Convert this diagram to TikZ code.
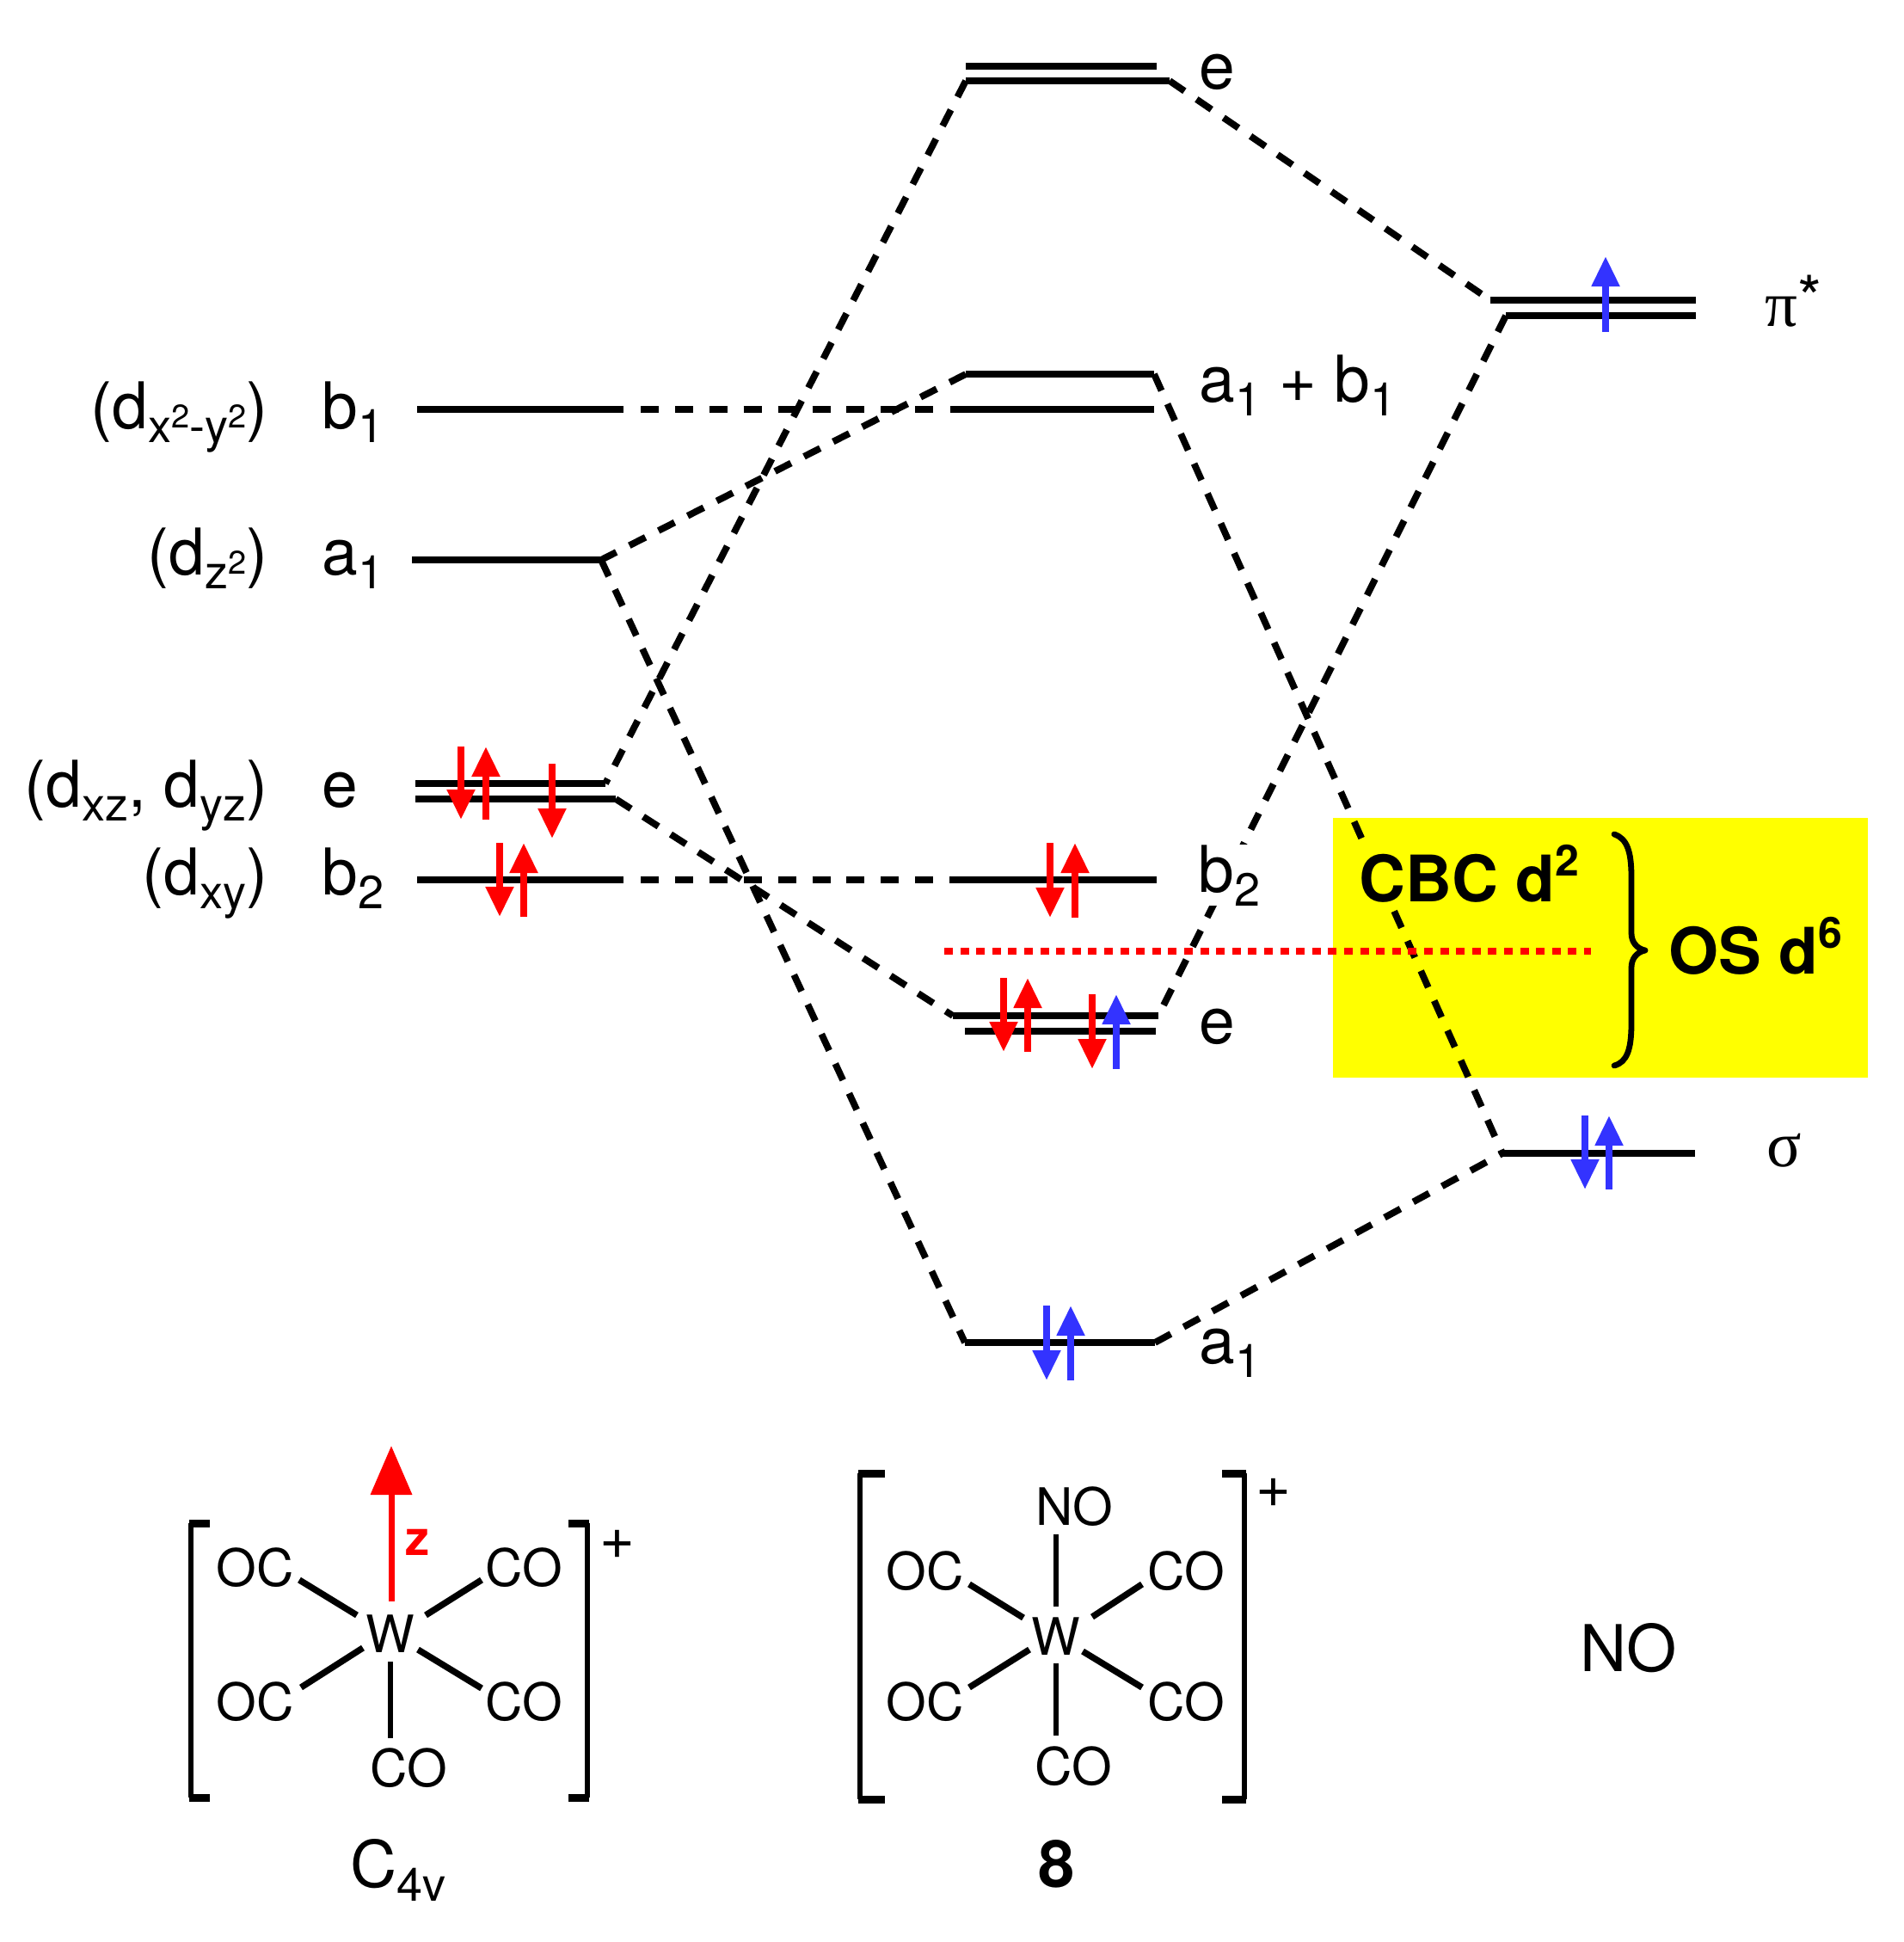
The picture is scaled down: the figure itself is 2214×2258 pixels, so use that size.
\documentclass[tikz,border=0pt]{standalone}
\usepackage{fontspec}
\setmainfont{TeX Gyre Heros}
\newfontfamily\symfont{Liberation Serif}
\usetikzlibrary{arrows.meta}
\definecolor{spinblue}{RGB}{51,51,255}
\definecolor{boxyellow}{RGB}{255,255,0}
\definecolor{purered}{RGB}{255,0,0}
\newcommand{\lsub}[1]{\raisebox{-8pt}{\fontsize{27}{27}\selectfont #1}}
\newcommand{\lsup}[1]{\raisebox{8.5pt}{\fontsize{19}{19}\selectfont #1}}
\newcommand{\bsup}[1]{\raisebox{15pt}{\fontsize{25}{25}\selectfont #1}}
\tikzset{
  level/.style={line width=4.2pt},
  link/.style={line width=3.9pt,dash pattern=on 10.5pt off 8.5pt},
  hlink/.style={line width=4.2pt,dash pattern=on 10.5pt off 9.45pt},
  sep/.style={purered,line width=4pt,dash pattern=on 5pt off 4.3pt},
  spinr/.style={purered,line width=4pt,-{Triangle[length=17.5pt,width=15.5pt]}},
  spinb/.style={spinblue,line width=4pt,-{Triangle[length=17.5pt,width=15.5pt]}},
  lab/.style={anchor=base west,inner sep=0pt,xshift=-2pt,font=\fontsize{37.5}{40}\selectfont},
  labr/.style={anchor=base east,inner sep=0pt,xshift=3pt,font=\fontsize{37.5}{40}\selectfont},
  atom/.style={anchor=base west,inner sep=0pt,xshift=-2pt,font=\fontsize{30}{32}\selectfont},
  plus/.style={anchor=base west,inner sep=0pt,font=\fontsize{35}{37}\selectfont},
  big/.style={anchor=base west,inner sep=0pt,font=\fontsize{37.3}{40}\selectfont\bfseries},
  bond/.style={line width=3.7pt},
  vbond/.style={line width=3pt},
  brk/.style={line width=3pt},
  tick/.style={line width=4.5pt},
  brace/.style={line width=3.4pt,line join=round,line cap=round}
}
\begin{document}
\begin{tikzpicture}[x=0.5pt,y=-0.5pt]
\useasboundingbox (0,0) rectangle (2214,2258);
\fill[boxyellow] (1550,951) rectangle (2172,1253);
% level end points
\coordinate (b1a) at (485,476); \coordinate (b1b) at (725,476);
\coordinate (b1c) at (745,476); \coordinate (b1f) at (1085,476);
\coordinate (b1d) at (1105,476); \coordinate (b1e) at (1342,476);
\coordinate (a1a) at (479,651); \coordinate (a1b) at (699,651);
\coordinate (eua) at (483,911); \coordinate (eub) at (704,911);
\coordinate (ela) at (483,929); \coordinate (elb) at (716,929);
\coordinate (b2a) at (485,1023); \coordinate (b2b) at (725,1023);
\coordinate (b2c) at (745,1023); \coordinate (b2f) at (1085,1023);
\coordinate (b2d) at (1104,1023); \coordinate (b2e) at (1345,1023);
\coordinate (tua) at (1123,77); \coordinate (tub) at (1345,77);
\coordinate (tla) at (1123,94); \coordinate (tlb) at (1360,94);
\coordinate (abua) at (1123,435); \coordinate (abub) at (1342,435);
\coordinate (piua) at (1733,349); \coordinate (piub) at (1972,349);
\coordinate (pila) at (1751,367); \coordinate (pilb) at (1972,367);
\coordinate (ceua) at (1108,1181); \coordinate (ceub) at (1347,1181);
\coordinate (cela) at (1122,1199); \coordinate (celb) at (1344,1199);
\coordinate (sga) at (1747,1341); \coordinate (sgb) at (1971,1341);
\coordinate (caa) at (1122,1561); \coordinate (cab) at (1343,1561);
% correlation lines
\draw[link] (tla) -- (eub);
\draw[link] (tlb) -- (piua);
\draw[link] (abua) -- (a1b);
\draw[link] (abub) -- (sga);
\draw[link] (a1b) -- (caa);
\draw[link] (elb) -- (ceua);
\draw[link] (pila) -- (ceub);
\draw[link] (cab) -- (sga);
\draw[hlink] (b1c) -- (b1f);
\draw[hlink] (b2c) -- (b2f);
\draw[sep] (1098,1106) -- (1850,1106);
% levels
\draw[level] (b1a) -- (b1b);
\draw[level] (b1d) -- (b1e);
\draw[level] (a1a) -- (a1b);
\draw[level] (eua) -- (eub);
\draw[level] (ela) -- (elb);
\draw[level] (b2a) -- (b2b);
\draw[level] (b2d) -- (b2e);
\draw[level] (tua) -- (tub);
\draw[level] (tla) -- (tlb);
\draw[level] (abua) -- (abub);
\draw[level] (piua) -- (piub);
\draw[level] (pila) -- (pilb);
\draw[level] (ceua) -- (ceub);
\draw[level] (cela) -- (celb);
\draw[level] (sga) -- (sgb);
\draw[level] (caa) -- (cab);
% spins
\draw[spinr] (536,868) -- (536,953);
\draw[spinr] (565,953) -- (565,868);
\draw[spinr] (642,888) -- (642,975);
\draw[spinr] (581,980) -- (581,1066);
\draw[spinr] (609,1066) -- (609,980);
\draw[spinr] (1221,980) -- (1221,1067);
\draw[spinr] (1250,1067) -- (1250,980);
\draw[spinr] (1167,1137) -- (1167,1223);
\draw[spinr] (1195,1223) -- (1195,1137);
\draw[spinr] (1270,1156) -- (1270,1243);
\draw[spinb] (1298,1243) -- (1298,1156);
\draw[spinb] (1843,1297) -- (1843,1383);
\draw[spinb] (1871,1383) -- (1871,1297);
\draw[spinb] (1867,386) -- (1867,298);
\draw[spinb] (1217,1518) -- (1217,1605);
\draw[spinb] (1245,1605) -- (1245,1518);
% left labels
\node[labr] (ldb1) at (306,498) {(d\lsub{x\lsup{2}-y\lsup{2}})};
\node[lab] (lb1) at (378,498) {b\lsub{1}};
\node[labr] (lda1) at (306,668) {(d\lsub{z\lsup{2}})};
\node[lab] (la1) at (378,668) {a\lsub{1}};
\node[labr] (lde) at (306,938) {(d\lsub{xz}, d\lsub{yz})};
\node[lab] (le) at (378,938) {e};
\node[labr] (ldb2) at (306,1040) {(d\lsub{xy})};
\node[lab] (lb2) at (378,1040) {b\lsub{2}};
% centre and right labels
\node[lab] (ct) at (1398,104) {e};
\node[lab] (cab1) at (1398,467) {a\lsub{1}\hspace{10.5pt}+\hspace{10.5pt}b\lsub{1}};
\node[lab,fill=white] (cb2) at (1397,1037) {b\lsub{2}};
\node[lab] (ce) at (1398,1213) {e};
\node[lab] (ca) at (1398,1585) {a\lsub{1}};
\node[lab] (pi) at (2056,379) {{\symfont π}\raisebox{3.5pt}{\fontsize{36}{36}\selectfont *}};
\node[lab] (sg) at (2058,1356) {{\symfont σ}};
% yellow box text
\node[big,fill=boxyellow] (cbc) at (1580,1048) {CBC d\bsup{2}};
\node[big] (os) at (1940,1132) {OS d\bsup{6}};
\draw[brace] (1877,970) .. controls (1892,975) and (1897,990) .. (1897,1020) -- (1897,1085)
  .. controls (1897,1095) and (1903,1103) .. (1913,1105)
  .. controls (1903,1107) and (1897,1115) .. (1897,1125) -- (1897,1190)
  .. controls (1897,1220) and (1892,1235) .. (1877,1239);
% left complex
\draw[brk] (222,1771) -- (222,2090);
\draw[tick] (220,1771) -- (244,1771);
\draw[tick] (220,2090) -- (244,2090);
\draw[brk] (683,1771) -- (683,2090);
\draw[tick] (685,1771) -- (661,1771);
\draw[tick] (685,2090) -- (661,2090);
\node[atom] (lw) at (429,1921) {W};
\node[atom] (loc1) at (255,1844) {OC};
\node[atom] (lco1) at (568,1844) {CO};
\node[atom] (loc2) at (255,2000) {OC};
\node[atom] (lco2) at (568,2000) {CO};
\node[atom] (lco3) at (434,2077) {CO};
\node[plus] (lplus) at (697,1812) {+};
\draw[bond] (348,1837) -- (415,1878);
\draw[bond] (560,1837) -- (495,1878);
\draw[bond] (350,1962) -- (422,1916);
\draw[bond] (560,1963) -- (486,1918);
\draw[vbond] (454,1932) -- (454,2021);
\draw[purered,line width=3.5pt,-{Triangle[length=28.5pt,width=23.5pt]}] (455,1862) -- (455,1681);
\node[atom,purered,font=\fontsize{28}{30}\selectfont\bfseries] (lz) at (475,1808) {z};
\node[lab] (c4v) at (411,2194) {C\lsub{4v}};
% centre complex
\draw[brk] (1000,1713) -- (1000,2092);
\draw[tick] (998,1713) -- (1029,1713);
\draw[tick] (998,2092) -- (1029,2092);
\draw[brk] (1447,1713) -- (1447,2092);
\draw[tick] (1449,1713) -- (1421,1713);
\draw[tick] (1449,2092) -- (1421,2092);
\node[atom] (cw) at (1203,1924) {W};
\node[atom] (cno) at (1208,1773) {NO};
\node[atom] (coc1) at (1034,1848) {OC};
\node[atom] (cco1) at (1338,1848) {CO};
\node[atom] (coc2) at (1034,2000) {OC};
\node[atom] (cco2) at (1338,2000) {CO};
\node[atom] (cco3) at (1207,2075) {CO};
\node[plus] (cplus) at (1460,1752) {+};
\draw[vbond] (1228,1784) -- (1228,1868);
\draw[bond] (1127,1842) -- (1190,1881);
\draw[bond] (1328,1842) -- (1270,1880);
\draw[bond] (1127,1962) -- (1197,1918);
\draw[bond] (1328,1962) -- (1259,1920);
\draw[vbond] (1228,1934) -- (1228,2018);
\node[anchor=base,inner sep=0pt,font=\fontsize{38}{40}\selectfont\bfseries] (eight) at (1229,2194) {8};
% NO
\node[lab] (no) at (1841,1943) {NO};
\end{tikzpicture}
\end{document}
